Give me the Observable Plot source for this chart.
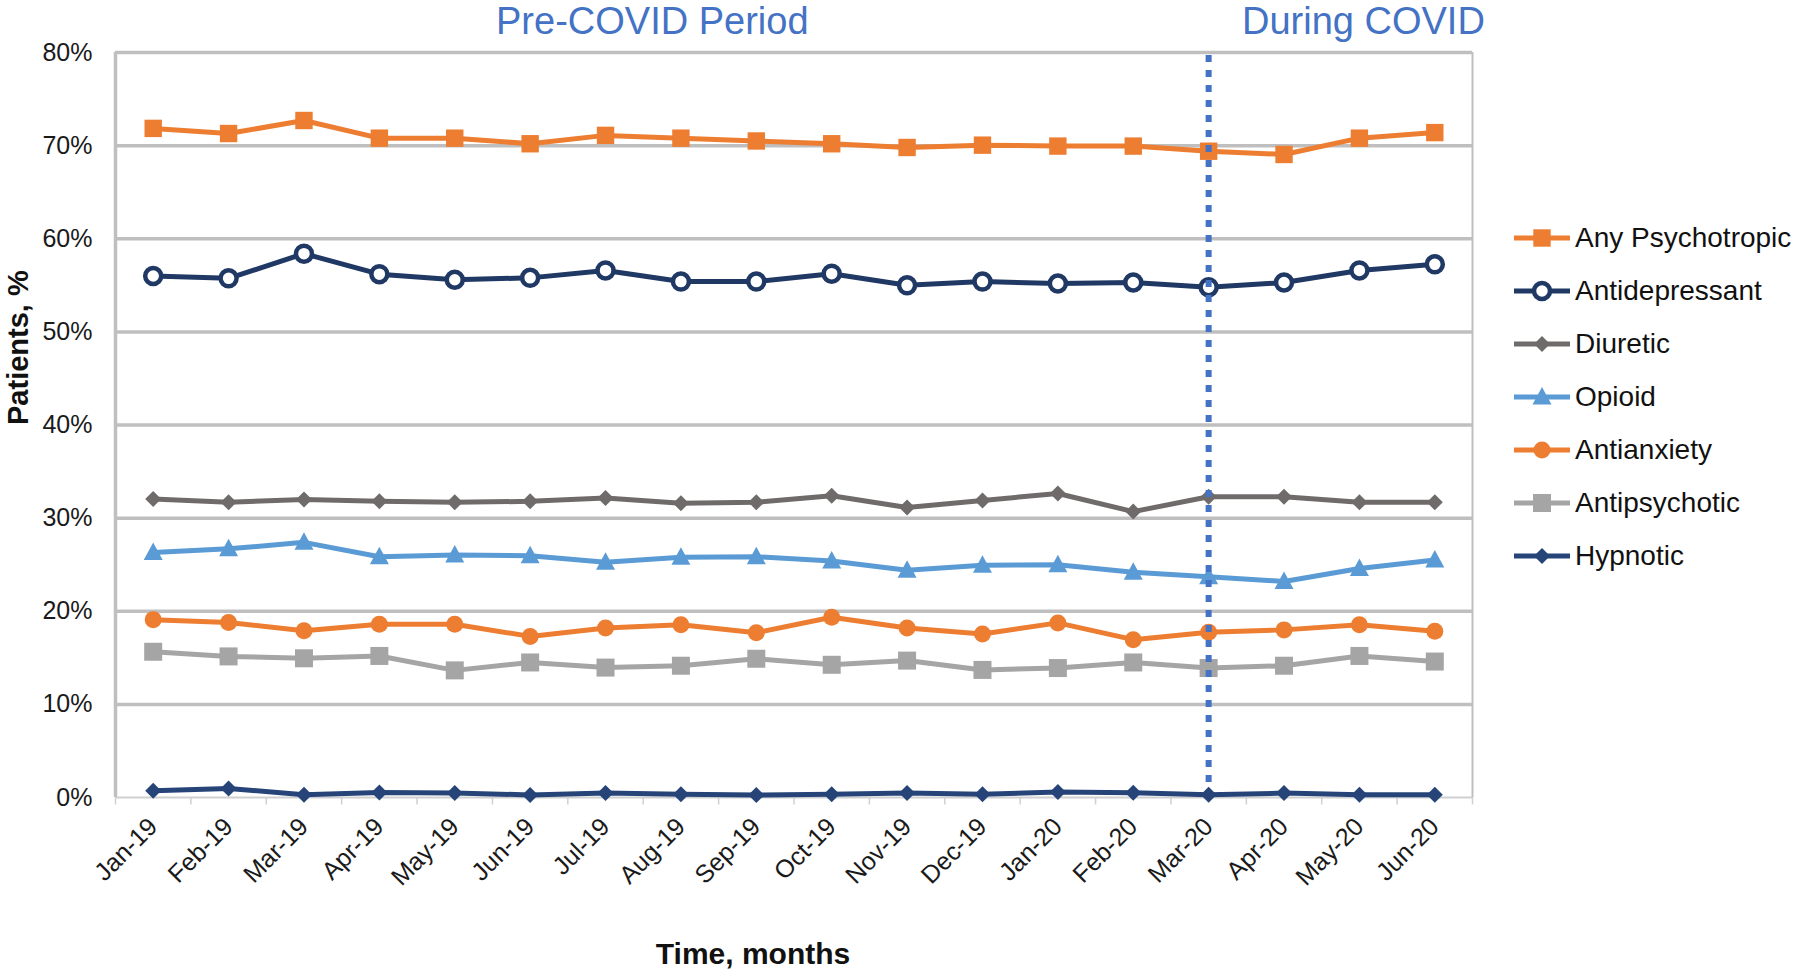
<!DOCTYPE html>
<html><head><meta charset="utf-8">
<script src="https://cdn.jsdelivr.net/npm/d3@7"></script>
<script src="https://cdn.jsdelivr.net/npm/@observablehq/plot@0.6"></script>
<style>
body{margin:0;background:#fff;font-family:"Liberation Sans",Arial,sans-serif;}
#wrap{position:relative;width:1800px;height:973px;overflow:hidden;}
#legend{position:absolute;left:1513px;top:211px;}
.row{display:flex;align-items:center;height:53px;font-size:28px;color:#111;white-space:nowrap;}
.row svg{margin-right:4px;}
</style></head><body><div id="wrap"><div id="legend"></div></div><script>
// ---- data ----
const months = ["Jan-19","Feb-19","Mar-19","Apr-19","May-19","Jun-19","Jul-19","Aug-19","Sep-19","Oct-19","Nov-19","Dec-19","Jan-20","Feb-20","Mar-20","Apr-20","May-20","Jun-20"];
const anyPsychotropic = [71.85,71.3,72.7,70.8,70.8,70.2,71.1,70.8,70.5,70.2,69.8,70.05,69.95,69.95,69.4,69.05,70.8,71.4];
const antidepressant  = [56.0,55.75,58.4,56.2,55.6,55.8,56.6,55.4,55.4,56.25,55.0,55.4,55.2,55.3,54.8,55.3,56.6,57.25];
const diuretic        = [32.05,31.7,32.0,31.8,31.7,31.8,32.15,31.6,31.7,32.4,31.15,31.9,32.65,30.7,32.3,32.3,31.7,31.7];
const opioid          = [26.3,26.7,27.4,25.85,26.05,25.95,25.25,25.8,25.85,25.4,24.4,24.95,25.0,24.2,23.7,23.2,24.6,25.5];
const antianxiety     = [19.1,18.8,17.9,18.6,18.6,17.3,18.2,18.55,17.7,19.35,18.2,17.55,18.75,16.95,17.75,18.0,18.55,17.85];
const antipsychotic   = [15.65,15.15,14.95,15.2,13.65,14.5,13.95,14.15,14.9,14.25,14.7,13.7,13.9,14.5,13.9,14.15,15.2,14.6];
const hypnotic        = [0.72,0.97,0.3,0.54,0.47,0.28,0.47,0.36,0.26,0.36,0.47,0.36,0.58,0.5,0.29,0.47,0.3,0.3];
const seriesNames = ["Any Psychotropic","Antidepressant","Diuretic","Opioid","Antianxiety","Antipsychotic","Hypnotic"];
const seriesValues = [anyPsychotropic, antidepressant, diuretic, opioid, antianxiety, antipsychotic, hypnotic];
const yTicks = [0,10,20,30,40,50,60,70,80];
const covidStart = "Mar-20";
const periodLabels = ["Pre-COVID Period","During COVID"];

// ---- styles ----
const R = (size) => Math.sqrt(size / Math.PI);
const sym = {
  square: {draw(c, s){ const r = R(s); c.rect(-r, -r, 2*r, 2*r); }},
  diamond: {draw(c, s){ const r = R(s); c.moveTo(0,-r); c.lineTo(r,0); c.lineTo(0,r); c.lineTo(-r,0); c.closePath(); }},
  triangle: {draw(c, s){ const r = R(s); c.moveTo(0,-r); c.lineTo(0.95*r,0.75*r); c.lineTo(-0.95*r,0.75*r); c.closePath(); }},
  circle: {draw(c, s){ const r = R(s); c.moveTo(r,0); c.arc(0,0,r,0,2*Math.PI); }}
};
const styles = [
  {color:"#ED7D31", symbol:sym.square,   r:8.7, fill:"#ED7D31"},
  {color:"#203864", symbol:sym.circle,   r:8.0, fill:"#ffffff", sw:4.5},
  {color:"#706B6B", symbol:sym.diamond,  r:8.0, fill:"#706B6B"},
  {color:"#5B9BD5", symbol:sym.triangle, r:10,  fill:"#5B9BD5"},
  {color:"#ED7D31", symbol:sym.circle,   r:8.5, fill:"#ED7D31"},
  {color:"#A5A5A5", symbol:sym.square,   r:9.0, fill:"#A5A5A5"},
  {color:"#264478", symbol:sym.diamond,  r:8.0, fill:"#264478"}
];

const W = 1800, H = 973, mL = 115, mR = 328, mT = 52, mB = 176;
const step = (W - mL - mR) / months.length;

const rows = seriesNames.map((name, k) => months.map((m, i) => ({series: name, month: m, value: seriesValues[k][i]})));

const seriesMarks = [];
rows.forEach((data, k) => {
  const st = styles[k];
  if (k === 6) seriesMarks.push(Plot.ruleX([covidStart], {y1: 0, y2: 80, stroke: "#4472C4", strokeWidth: 6, strokeDasharray: "7,8"}));
  seriesMarks.push(Plot.line(data, {x: "month", y: "value", stroke: st.color, strokeWidth: 5, strokeLinejoin: "round", strokeLinecap: "round"}));
  seriesMarks.push(Plot.dot(data, {x: "month", y: "value", symbol: st.symbol, r: st.r, fill: st.fill,
    stroke: st.sw ? st.color : "none", strokeWidth: st.sw || 0}));
});

const chart = Plot.plot({
  width: W, height: H, marginLeft: mL, marginRight: mR, marginTop: mT, marginBottom: mB,
  style: {fontFamily: "'Liberation Sans', Arial, sans-serif", fontSize: "25px", color: "#1a1a1a", background: "#fff", overflow: "visible"},
  x: {type: "band", domain: months, padding: 0, round: false, label: null, tickRotate: -45, tickSize: 0, tickPadding: 25},
  y: {domain: [0, 80], ticks: yTicks, tickFormat: d => d + "%", tickSize: 0, tickPadding: 23, label: null},
  marks: [
    Plot.ruleY(yTicks.filter(d => d > 0), {stroke: "#BFBFBF", strokeWidth: 3.5}),
    Plot.ruleY([0], {stroke: "#D0D0D0", strokeWidth: 2}),
    Plot.ruleX([months[0]], {y1: 0, y2: 80, dx: -step/2, stroke: "#BFBFBF", strokeWidth: 3.5}),
    Plot.ruleX([months[months.length-1]], {y1: 0, y2: 80, dx: step/2, stroke: "#BFBFBF", strokeWidth: 2}),
    Plot.ruleX(months, {y1: 0, y2: -0.8, dx: -step/2, stroke: "#D0D0D0", strokeWidth: 1.5}),
    Plot.ruleX([months[months.length-1]], {y1: 0, y2: -0.8, dx: step/2, stroke: "#D0D0D0", strokeWidth: 1.5}),
    ...seriesMarks,
    Plot.text([periodLabels[0]], {x: ["Jul-19"], y: [80], text: d => d, dx: 0.62*step, dy: -31, fill: "#4472C4", fontSize: 38, lineAnchor: "middle"}),
    Plot.text([periodLabels[1]], {x: ["May-20"], y: [80], text: d => d, dx: 4, dy: -31, fill: "#4472C4", fontSize: 38, lineAnchor: "middle"}),
    Plot.text(["Patients, %"], {frameAnchor: "left", text: d => d, rotate: -90, dx: -97, fontSize: 29, fontWeight: "bold", fill: "#111"}),
    Plot.text(["Time, months"], {frameAnchor: "bottom", text: d => d, dx: -41, dy: 166, fontSize: 30, fontWeight: "bold", fill: "#111"})
  ]
});
document.getElementById("wrap").prepend(chart);

// ---- legend ----
const legend = document.getElementById("legend");
seriesNames.forEach((name, k) => {
  const st = styles[k];
  const p = d3.path();
  st.symbol.draw(p, Math.PI * st.r * st.r);
  const row = document.createElement("div");
  row.className = "row";
  row.innerHTML = `<svg width="58" height="26" viewBox="0 0 58 26"><line x1="1" x2="57" y1="13" y2="13" stroke="${st.color}" stroke-width="5"/>` +
    `<path transform="translate(29,13)" d="${p.toString()}" fill="${st.fill}" stroke="${st.sw ? st.color : "none"}" stroke-width="${st.sw || 0}"/></svg><span>${name}</span>`;
  legend.appendChild(row);
});
</script></body></html>
